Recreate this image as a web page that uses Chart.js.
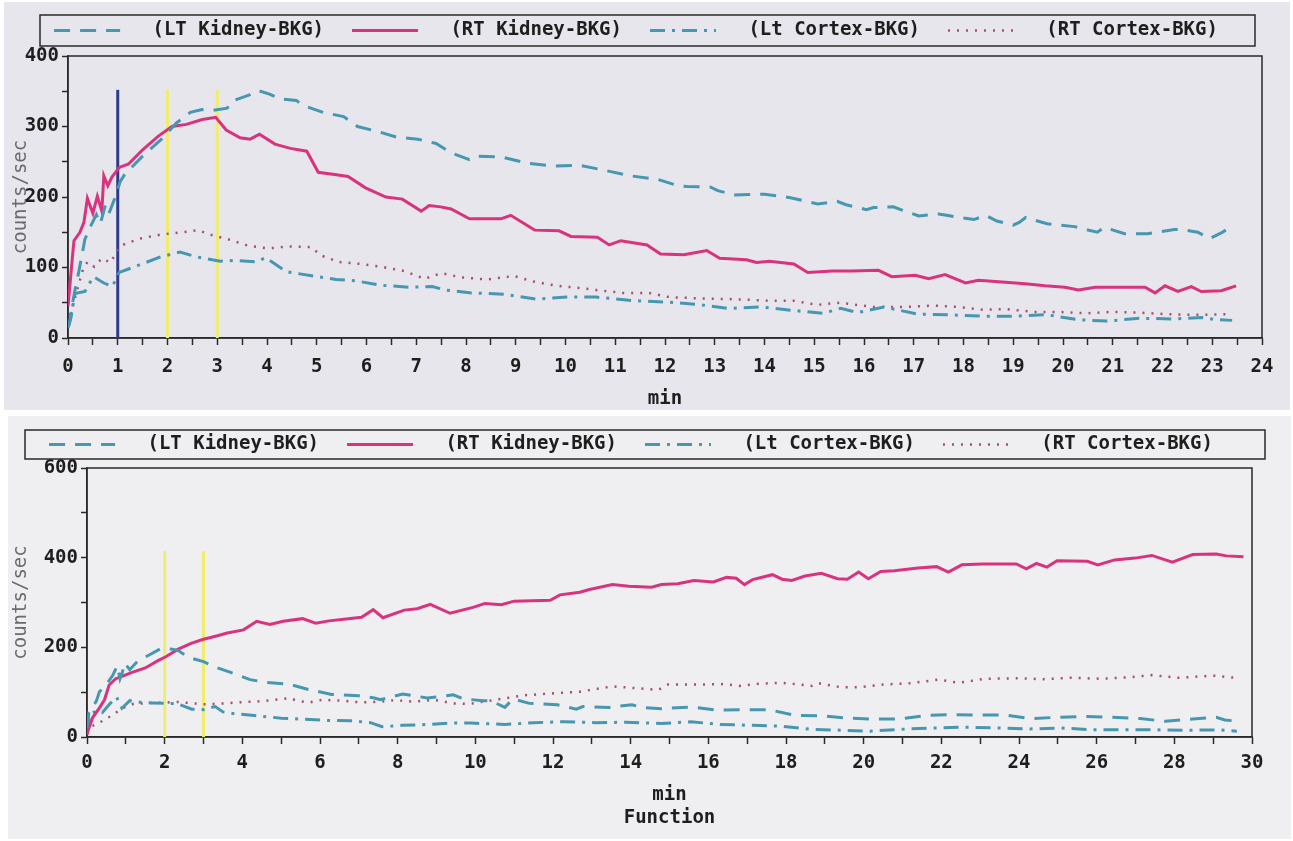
<!DOCTYPE html>
<html>
<head>
<meta charset="utf-8">
<title>Renogram curves</title>
<script src="https://cdn.jsdelivr.net/npm/chart.js@4.4.1/dist/chart.umd.min.js"></script>
<style>
  html, body { margin: 0; padding: 0; background: #fff; }
  body { width: 1293px; height: 841px; position: relative; overflow: hidden; }
  .panel { position: absolute; }
  #panelTop { left: 4px; top: 2px; width: 1286px; height: 408px; background: #e7e6ec; }
  #panelBottom { left: 8px; top: 416px; width: 1283px; height: 423px; background: #efeff1; }
  canvas { position: absolute; left: 0; }
  #chartTop { top: 0; }
  #chartBottom { top: 416px; }
</style>
</head>
<body>
<div class="panel" id="panelTop"></div>
<div class="panel" id="panelBottom"></div>
<canvas id="chartTop" width="1293" height="410"></canvas>
<canvas id="chartBottom" width="1293" height="425"></canvas>
<script>
// values: time in min, counts/sec

const seriesLabels = ['(LT Kidney-BKG)', '(RT Kidney-BKG)', '(Lt Cortex-BKG)', '(RT Cortex-BKG)'];

// ---- first study (0-24 min)
const topLtKidneyT = [0, 0.03, 0.09, 0.14, 0.22, 0.34, 0.45, 0.57, 0.65, 0.75, 0.82, 0.95, 1.05, 1.14, 1.5, 1.88, 2.18, 2.46, 2.69, 2.92, 3.2, 3.3, 3.62, 3.82, 4.05, 4.26, 4.59, 4.72, 5.13, 5.54, 5.82, 6.22, 6.6, 7.03, 7.4, 7.69, 8.07, 8.23, 8.7, 9.23, 9.74, 10.27, 10.78, 11.31, 11.85, 12.26, 12.45, 12.92, 13.06, 13.39, 14.0, 14.52, 15.07, 15.46, 15.64, 16.05, 16.19, 16.59, 17.1, 17.5, 17.66, 18.21, 18.45, 18.67, 19.0, 19.12, 19.25, 19.68, 20.23, 20.69, 20.83, 21.24, 21.7, 22.24, 22.37, 22.71, 22.95, 23.18, 23.41];
const topLtKidneyV = [15, 20, 49, 68, 95, 140, 158, 175, 162, 188, 176, 200, 222, 232, 258, 282, 305, 320, 324, 323, 326, 336, 344, 351, 346, 339, 337, 330, 320, 314, 300, 293, 285, 282, 276, 263, 253, 258, 257, 248, 244, 245, 238, 230, 225, 216, 215, 214, 209, 203, 204, 199, 190, 194, 189, 182, 185, 186, 173, 176, 174, 168, 174, 166, 160, 164, 171, 162, 158, 150, 157, 148, 148, 154, 154, 150, 141, 149, 159];

const topRtKidneyT = [0, 0.07, 0.12, 0.24, 0.32, 0.39, 0.5, 0.59, 0.68, 0.72, 0.8, 0.88, 1.03, 1.22, 1.5, 1.81, 2.09, 2.38, 2.7, 2.97, 3.18, 3.46, 3.66, 3.85, 4.16, 4.47, 4.8, 5.03, 5.36, 5.63, 5.98, 6.39, 6.72, 7.1, 7.26, 7.49, 7.7, 8.07, 8.7, 8.9, 9.38, 9.87, 10.11, 10.64, 10.88, 11.11, 11.64, 11.91, 12.38, 12.84, 13.1, 13.64, 13.84, 14.1, 14.59, 14.87, 15.36, 15.76, 16.29, 16.56, 17.03, 17.3, 17.63, 18.04, 18.3, 18.84, 19.24, 19.64, 20.04, 20.31, 20.65, 21.38, 21.65, 21.85, 22.05, 22.31, 22.58, 22.78, 23.18, 23.48];
const topRtKidneyV = [45, 100, 138, 150, 164, 198, 177, 201, 180, 230, 216, 228, 242, 247, 267, 286, 300, 303, 310, 313, 295, 284, 282, 289, 275, 269, 265, 235, 232, 229, 213, 200, 197, 180, 188, 186, 183, 169, 169, 174, 153, 152, 144, 143, 132, 138, 132, 119, 118, 124, 113, 111, 107, 109, 105, 93, 95, 95, 96, 87, 89, 84, 90, 78, 82, 79, 77, 74, 72, 68, 72, 72, 72, 64, 74, 66, 73, 66, 67, 74];

const topLtCortexT = [0, 0.06, 0.14, 0.34, 0.51, 0.72, 0.89, 1.03, 1.41, 1.86, 2.25, 2.59, 3.06, 3.39, 3.78, 3.97, 4.39, 4.93, 5.39, 5.8, 6.26, 6.86, 7.32, 7.59, 8.11, 8.78, 9.41, 10.03, 10.62, 11.36, 12.02, 12.61, 13.28, 13.93, 14.59, 15.18, 15.53, 15.87, 16.4, 17.07, 17.67, 18.4, 19.0, 19.67, 20.3, 20.87, 21.53, 22.2, 22.8, 23.07, 23.4];
const topLtCortexV = [15, 29, 63, 66, 87, 78, 73, 93, 103, 115, 122, 115, 109, 110, 108, 114, 94, 88, 83, 81, 75, 72, 73, 68, 64, 62, 55, 58, 58, 53, 51, 48, 42, 44, 39, 35, 42, 36, 44, 34, 33, 31, 31, 33, 26, 24, 28, 27, 29, 26, 25];

const topRtCortexT = [0, 0.07, 0.3, 0.39, 0.53, 0.68, 0.85, 1.06, 1.44, 1.89, 2.29, 2.61, 2.89, 3.22, 3.62, 4.03, 4.42, 4.88, 5.09, 5.43, 5.89, 6.3, 6.76, 7.17, 7.5, 7.9, 8.43, 8.96, 9.36, 9.83, 10.29, 10.62, 11.15, 11.68, 12.08, 12.74, 13.4, 14.06, 14.58, 15.05, 15.51, 16.18, 16.85, 17.38, 17.91, 18.4, 18.87, 19.4, 19.93, 20.45, 20.98, 21.52, 22.05, 22.58, 22.98, 23.38];
const topRtCortexV = [20, 40, 97, 108, 101, 113, 107, 131, 141, 147, 150, 153, 146, 140, 131, 127, 130, 129, 117, 108, 105, 101, 95, 84, 92, 86, 83, 88, 80, 74, 71, 68, 64, 64, 58, 56, 55, 53, 53, 47, 50, 44, 44, 46, 44, 40, 41, 37, 37, 35, 37, 36, 34, 33, 33, 34];

const topMarkerT = [1, 2, 3];
const topMarkerColors = ['#2e3a8e', '#f0ed6a', '#f0ed6a'];
const topMarkerTop = 352;

// ---- second study (0-30 min, "Function")
const botRtKidneyT = [0, 0.03, 0.15, 0.32, 0.45, 0.57, 0.74, 0.95, 1.16, 1.5, 1.84, 2.03, 2.35, 2.68, 3.0, 3.36, 3.61, 4.03, 4.37, 4.71, 5.05, 5.55, 5.89, 6.23, 6.73, 7.07, 7.37, 7.62, 8.17, 8.5, 8.84, 9.35, 9.94, 10.25, 10.67, 11.0, 11.93, 12.18, 12.69, 12.94, 13.53, 13.95, 14.54, 14.79, 15.21, 15.63, 16.13, 16.47, 16.72, 16.93, 17.14, 17.65, 17.9, 18.15, 18.49, 18.91, 19.33, 19.58, 19.87, 20.12, 20.44, 20.79, 21.4, 21.88, 22.18, 22.53, 23.06, 23.93, 24.19, 24.45, 24.72, 24.98, 25.76, 26.03, 26.46, 26.99, 27.42, 27.95, 28.47, 29.08, 29.34, 29.78];
const botRtKidneyV = [5, 15, 44, 65, 83, 116, 130, 137, 144, 154, 171, 179, 196, 209, 218, 226, 232, 239, 258, 251, 258, 264, 254, 259, 264, 267, 284, 266, 283, 286, 296, 276, 289, 298, 295, 303, 305, 317, 323, 329, 340, 336, 334, 340, 342, 349, 346, 356, 354, 340, 351, 362, 352, 349, 359, 365, 353, 352, 368, 353, 369, 371, 377, 380, 368, 384, 386, 386, 375, 387, 379, 393, 392, 384, 395, 399, 405, 390, 407, 408, 404, 402];

const botLtKidneyT = [0, 0.05, 0.24, 0.32, 0.49, 0.66, 0.78, 0.85, 0.91, 0.97, 1.1, 1.3, 1.6, 1.9, 2.2, 2.35, 2.6, 3.0, 3.3, 3.7, 4.2, 4.6, 5.2, 5.7, 6.3, 7.0, 7.4, 7.55, 8.13, 8.76, 9.43, 9.69, 10.2, 10.4, 10.76, 10.97, 11.39, 12.1, 12.6, 12.77, 13.45, 14.03, 14.3, 14.79, 15.55, 16.22, 16.89, 17.56, 18.24, 19.0, 19.58, 20.26, 20.92, 21.62, 22.27, 22.97, 23.62, 24.32, 24.98, 25.68, 26.38, 27.12, 27.77, 28.47, 29.08, 29.3, 29.65];
const botLtKidneyV = [20, 55, 80, 101, 116, 137, 159, 130, 144, 165, 150, 169, 183, 197, 196, 193, 178, 168, 156, 144, 128, 122, 118, 106, 95, 92, 87, 83, 96, 87, 94, 85, 81, 81, 66, 85, 75, 72, 62, 68, 66, 72, 66, 63, 67, 60, 61, 61, 48, 47, 42, 40, 40, 48, 50, 49, 49, 41, 44, 46, 44, 41, 35, 40, 44, 38, 35];

const botLtCortexT = [0, 0.07, 0.3, 0.4, 0.6, 0.76, 0.9, 1.1, 1.4, 1.7, 2.0, 2.3, 2.7, 3.0, 3.3, 3.5, 3.8, 4.3, 5.0, 5.5, 6.2, 6.8, 7.3, 7.6, 8.1, 8.8, 9.3, 9.9, 10.76, 11.51, 12.27, 13.1, 13.87, 14.79, 15.55, 16.3, 17.14, 17.9, 18.66, 19.5, 20.17, 21.14, 21.83, 22.62, 23.49, 24.28, 25.07, 25.94, 26.72, 27.51, 28.38, 29.17, 29.61];
const botLtCortexV = [10, 51, 60, 55, 75, 89, 64, 81, 77, 76, 75, 75, 62, 61, 68, 56, 52, 48, 42, 40, 37, 36, 32, 23, 26, 28, 31, 31, 28, 32, 34, 32, 33, 30, 34, 28, 26, 24, 17, 15, 13, 18, 20, 22, 20, 18, 20, 16, 16, 16, 15, 16, 13];

const botRtCortexT = [0, 0.07, 0.32, 0.66, 0.91, 1.2, 1.67, 2.35, 3.02, 3.53, 4.03, 4.54, 5.22, 5.4, 5.72, 6.06, 6.57, 7.07, 7.58, 7.92, 8.42, 8.93, 9.43, 9.86, 10.59, 11.26, 11.93, 12.69, 13.53, 14.12, 14.71, 14.96, 15.63, 16.39, 16.81, 17.31, 17.9, 18.66, 18.83, 19.41, 19.91, 20.52, 21.22, 21.92, 22.45, 23.14, 23.93, 24.63, 25.33, 26.11, 26.81, 27.42, 28.12, 28.99, 29.69];
const botRtCortexV = [10, 22, 32, 49, 64, 74, 76, 78, 73, 75, 78, 80, 87, 81, 77, 83, 81, 77, 79, 82, 79, 83, 75, 74, 84, 93, 97, 101, 113, 109, 105, 117, 117, 118, 114, 119, 121, 114, 120, 111, 111, 117, 120, 128, 121, 130, 131, 129, 132, 130, 133, 138, 132, 137, 131];

const botMarkerT = [2, 3];
const botMarkerColors = ['#f0ed6a', '#f0ed6a'];
const botMarkerTop = 415;

// ---- styling
const MONO = "'DejaVu Sans Mono', 'Liberation Mono', monospace";
const TEAL = '#4797b0';
const PINK = '#d8337c';
const PLUM = '#a44f6d';
const INK = '#1e1e1e';
const RULE = '#2a2a2a';

function pts(t, v) {
  return t.map((x, i) => ({ x: x, y: v[i] }));
}

function seriesSets(ltK, rtK, ltC, rtC) {
  const base = { pointRadius: 0, tension: 0, fill: false, borderCapStyle: 'butt' };
  return [
    Object.assign({ label: seriesLabels[0], data: ltK, borderColor: TEAL, borderWidth: 3, borderDash: [16, 10] }, base),
    Object.assign({ label: seriesLabels[1], data: rtK, borderColor: PINK, borderWidth: 3 }, base),
    Object.assign({ label: seriesLabels[2], data: ltC, borderColor: TEAL, borderWidth: 3, borderDash: [15, 7, 3, 7] }, base),
    Object.assign({ label: seriesLabels[3], data: rtC, borderColor: PLUM, borderWidth: 2.5, borderDash: [2, 7] }, base)
  ];
}

function markerSets(xs, colors, top) {
  return xs.map((x, i) => ({
    label: '',
    data: [{ x: x, y: 0 }, { x: x, y: top }],
    borderColor: colors[i],
    borderWidth: 3,
    pointRadius: 0
  }));
}

// legend labels: line samples keep the dataset's own dash pattern
function legendItems(chart) {
  return Chart.defaults.plugins.legend.labels.generateLabels(chart).map(l => {
    const ds = chart.data.datasets[l.datasetIndex];
    return Object.assign(l, {
      text: '  ' + l.text,
      strokeStyle: ds.borderColor,
      lineWidth: ds.borderWidth,
      lineDash: ds.borderDash || [],
      lineCap: 'butt'
    });
  });
}

// legend height fix + boxes round the legend and the plot
function framePlugin(cfg) {
  return {
    id: 'frame',
    beforeInit(chart) {
      const fit = chart.legend.fit;
      chart.legend.fit = function () {
        fit.call(this);
        this.height = cfg.legendHeight;
      };
    },
    beforeDatasetsDraw(chart) {
      const { ctx, chartArea: a } = chart;
      ctx.save();
      ctx.strokeStyle = RULE;
      ctx.lineWidth = 1.5;
      ctx.strokeRect(a.left, a.top, a.right - a.left, a.bottom - a.top);
      ctx.restore();
    },
    afterDraw(chart) {
      const { ctx, legend } = chart;
      const hb = legend.legendHitBoxes[0];
      if (!hb) return;
      const mid = hb.top + hb.height / 2;
      ctx.save();
      ctx.strokeStyle = RULE;
      ctx.lineWidth = 1.5;
      ctx.strokeRect(cfg.boxLeft, mid - cfg.boxHeight / 2, cfg.boxRight - cfg.boxLeft, cfg.boxHeight);
      ctx.restore();
    }
  };
}

function makeChart(id, o) {
  const tickFont = { family: MONO, size: 19, weight: 'bold' };
  return new Chart(document.getElementById(id), {
    type: 'line',
    data: {
      datasets: seriesSets(o.ltK, o.rtK, o.ltC, o.rtC).concat(markerSets(o.markers, o.markerColors, o.markerTop))
    },
    options: {
      responsive: false,
      animation: false,
      devicePixelRatio: 1,
      events: [],
      layout: { padding: o.padding },
      plugins: {
        tooltip: { enabled: false },
        legend: {
          position: 'top',
          align: 'center',
          labels: {
            usePointStyle: true,
            pointStyle: 'line',
            pointStyleWidth: 66,
            padding: 28,
            color: INK,
            font: { family: MONO, size: 19, weight: 'bold' },
            generateLabels: legendItems,
            filter: item => item.text.trim() !== ''
          }
        }
      },
      scales: {
        x: {
          type: 'linear',
          min: 0,
          max: o.xMax,
          afterFit: s => { s.height = o.xHeight; },
          border: { color: RULE, width: 1.5 },
          grid: { drawOnChartArea: false, color: RULE, tickLength: 7, tickWidth: 1.5 },
          ticks: {
            stepSize: o.xStep,
            autoSkip: false,
            maxRotation: 0,
            padding: o.xPad,
            color: INK,
            font: tickFont,
            callback: v => (Math.abs(v % o.xLabelEvery) < 1e-6 ? v : '')
          },
          title: {
            display: true,
            text: o.xTitle,
            color: INK,
            font: { family: MONO, size: 19, weight: 'bold' },
            padding: { top: 0, bottom: o.xTitlePad }
          }
        },
        y: {
          min: 0,
          max: o.yMax,
          afterFit: s => { s.width = o.yWidth; },
          border: { color: RULE, width: 1.5 },
          grid: { drawOnChartArea: false, color: RULE, tickLength: 6, tickWidth: 1.5 },
          ticks: {
            stepSize: o.yStep,
            padding: 3,
            color: INK,
            font: tickFont,
            callback: v => (v % o.yLabelEvery === 0 ? v : '')
          },
          title: {
            display: true,
            text: 'counts/sec',
            color: '#6a6a70',
            font: { family: MONO, size: 19 },
            padding: 0
          }
        }
      }
    },
    plugins: [framePlugin(o.frame)]
  });
}

makeChart('chartTop', {
  ltK: pts(topLtKidneyT, topLtKidneyV),
  rtK: pts(topRtKidneyT, topRtKidneyV),
  ltC: pts(topLtCortexT, topLtCortexV),
  rtC: pts(topRtCortexT, topRtCortexV),
  markers: topMarkerT, markerColors: topMarkerColors, markerTop: topMarkerTop,
  padding: { left: 10, right: 31, top: -7, bottom: 0 },
  xMax: 24, xStep: 0.5, xLabelEvery: 1, xHeight: 72, xPad: 11, xTitle: 'min', xTitlePad: 0,
  yMax: 400, yStep: 50, yLabelEvery: 100, yWidth: 58,
  frame: { legendHeight: 63, boxLeft: 40, boxRight: 1255, boxHeight: 31 }
});

makeChart('chartBottom', {
  ltK: pts(botLtKidneyT, botLtKidneyV),
  rtK: pts(botRtKidneyT, botRtKidneyV),
  ltC: pts(botLtCortexT, botLtCortexV),
  rtC: pts(botRtCortexT, botRtCortexV),
  markers: botMarkerT, markerColors: botMarkerColors, markerTop: botMarkerTop,
  padding: { left: 10, right: 41, top: -9, bottom: 0 },
  xMax: 30, xStep: 1, xLabelEvery: 2, xHeight: 104, xPad: 8, xTitle: ['min', 'Function'], xTitlePad: 12,
  yMax: 600, yStep: 100, yLabelEvery: 200, yWidth: 77,
  frame: { legendHeight: 61, boxLeft: 25, boxRight: 1265, boxHeight: 29 }
});
</script>
</body>
</html>
